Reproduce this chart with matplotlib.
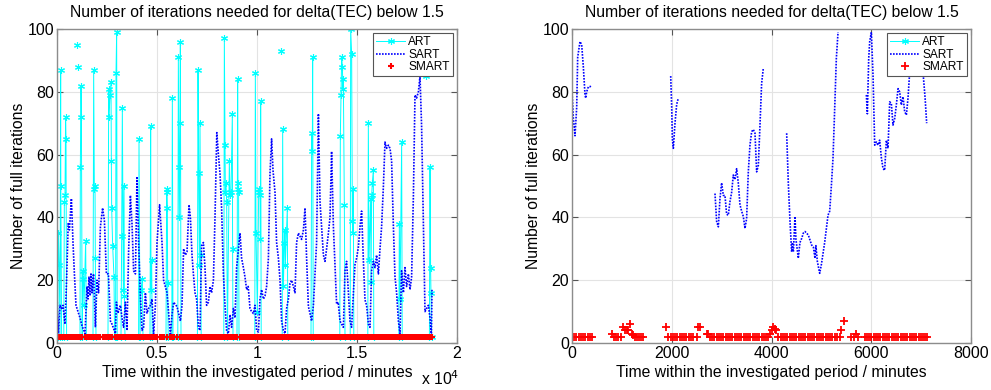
import numpy as np
import matplotlib
matplotlib.use("Agg")
import matplotlib.pyplot as plt

plt.rcParams['font.family'] = ['Liberation Sans', 'DejaVu Sans']

# ---------------- left panel data (time in minutes) ----------------
sart_left_t = [0, 70, 150, 230, 300, 400, 480, 560, 620, 720, 800, 870, 950, 1050, 1150, 1250, 1400,
               1500, 1550, 1600, 1650, 1700, 1750, 1800, 1830, 1920, 2000, 2080, 2170, 2280, 2370, 2470,
               2570, 2670, 2750, 2920, 2970, 3050, 3170, 3250, 3330, 3420, 3500, 3580, 3670, 3750, 3830,
               3920, 4000, 4080, 4170, 4250, 4330, 4420, 4500, 4580, 4670, 4750, 4830, 4920, 5000, 5130,
               5250, 5330, 5500, 5670, 5750, 5830, 6000, 6170, 6250, 6330, 6420, 6500, 6600, 6670, 6750,
               6820, 6900, 6980, 7070, 7150, 7230, 7320, 7400, 7480, 7570, 7650, 7730, 7820, 7900, 7990,
               8070, 8150, 8230, 8320, 8400, 8480, 8570, 8650, 8730, 8820, 8900, 8980, 9150, 9230, 9320,
               9400, 9480, 9560, 9650, 9730, 9820, 9900, 9980, 10070, 10150, 10230, 10320, 10400, 10480,
               10570, 10650, 10730, 10800, 10900, 10980, 11070, 11150, 11230, 11320, 11400, 11480, 11570,
               11650, 11730, 11820, 11900, 11980, 12070, 12150, 12230, 12320, 12400, 12480, 12570, 12650,
               12730, 12820, 12900, 12980, 13030, 13070, 13150, 13230, 13320, 13400, 13480, 13570, 13650,
               13730, 13820, 13900, 13980, 14060, 14150, 14230, 14320, 14400, 14480, 14570, 14650, 14730,
               14820, 14900, 14980, 15070, 15150, 15230, 15320, 15400, 15480, 15570, 15650, 15730, 15820,
               15900, 15980, 16070, 16150, 16230, 16320, 16400, 16480, 16570, 16650, 16730, 16820, 16900,
               16980, 17070, 17150, 17230, 17320, 17400, 17480, 17570, 17650, 17730, 17820, 17900, 17980,
               18070, 18150, 18230, 18320, 18400, 18480, 18570, 18650, 18720, 18750]
sart_left = [15, 3, 12, 11, 12, 6, 20, 38, 36, 46, 32, 22, 12, 10, 8, 5.5, 3,
             18, 14, 21, 15, 22, 16, 21, 22, 5, 20, 16, 37, 43, 39, 22,
             22, 7, 6, 3, 13, 9.5, 12, 8, 5, 13, 4, 29, 47, 38, 23,
             22, 53, 32, 15, 4, 5, 16, 9.5, 11, 12, 14, 3, 12, 32, 44,
             32, 20, 16, 2.5, 9, 13, 11.6, 7, 12, 30, 28, 29, 44, 40, 28,
             22, 16, 14, 5, 4, 31, 32, 24, 12, 13, 18, 16, 20, 40, 67,
             60, 54, 43, 22, 12, 4, 3, 9, 5, 11, 8, 24, 35, 27, 24,
             21, 17, 18, 11, 10, 9.4, 12, 4, 3.5, 14, 17, 14, 15, 18,
             27, 54, 65, 55, 48, 32, 27, 20, 7, 4, 3, 11, 14,
             19, 20, 18, 16, 32, 35, 34, 33, 36, 43, 27, 11.6, 9.4,
             7, 12, 22, 32, 54, 73, 45, 37, 28, 26, 30, 35, 40,
             61, 37, 25, 12.4, 13, 7, 6, 5, 23, 26, 16, 7, 5,
             16, 25, 27, 30.6, 37, 42, 26, 13.7, 12, 6, 5, 23, 26,
             24, 28, 22, 30, 37, 50, 64, 62, 63, 62, 58, 37, 21,
             16, 7, 3, 23, 16, 24, 18, 22, 17, 21, 47, 79, 78,
             80, 85, 69, 37, 10, 11, 12, 8, 2, 17]

nan = np.nan
art_left_t = [30, 67, 110, 150, 183, 190, 230, 231,
              340, 367, 400, 430, 450, 480, 481,
              983, 984, 1033, 1034,
              1150, 1167, 1200, 1220, 1260, 1283, 1317, 1350, 1433, 1470, 1471,
              1800, 1833, 1867, 1900, 1917, 1950, 1951,
              2550, 2583, 2600, 2650, 2700, 2717, 2733, 2783, 2850, 2880, 2881,
              2930, 2950, 2983, 3010, 3011,
              3200, 3233, 3267, 3317, 3350, 3370, 3400, 3401,
              4080, 4100, 4150, 4200, 4267, 4300, 4301,
              4650, 4683, 4700, 4733, 4760, 4761,
              5450, 5483, 5500, 5517, 5533, 5560, 5561,
              5740, 5767, 5800, 5801,
              6040, 6067, 6100, 6117, 6150, 6167, 6200, 6201,
              7020, 7050, 7083, 7120, 7150, 7183, 7210, 7211,
              8340, 8367, 8400, 8417, 8450, 8483, 8520, 8617, 8650, 8700, 8767, 8780, 8800, 8801,
              9000, 9033, 9050, 9067, 9080, 9100, 9101,
              9890, 9917, 9950, 10017, 10083, 10100, 10150, 10170, 10183, 10210, 10211,
              11200, 11201,
              11260, 11283, 11317, 11367, 11400, 11417, 11517, 11540, 11541,
              12700, 12733, 12767, 12783, 12810, 12811,
              14140, 14167, 14200, 14233, 14267, 14300, 14317, 14367, 14400, 14401,
              14660, 14683, 14733, 14767, 14790, 14817, 14840, 14841,
              15540, 15567, 15600, 15683, 15700, 15733, 15767, 15817, 15840, 15841,
              17090, 17117, 17150, 17233, 17260, 17261,
              18450, 18451,
              18620, 18650, 18680, 18700, 18730]
art_left = [2, 35, 25, 2, 87, 50, 2, nan,
            2, 45, 47, 72, 65, 2, nan,
            95, nan, 88, nan,
            2, 56, 82, 72, 2, 23, 20.5, 12, 32.5, 2, nan,
            2, 87, 49, 50, 27, 2, nan,
            2, 81, 72, 79, 83, 58, 43, 31, 21, 2, nan,
            2, 86, 99, 2, nan,
            2, 34, 75, 17, 50, 15, 2, nan,
            2, 65, 2, 17, 20.5, 2, nan,
            2, 69, 17, 26.5, 2, nan,
            2, 49, 48, 43, 19, 2, nan,
            2, 78, 2, nan,
            2, 91, 56, 40, 70, 96, 2, nan,
            2, 87, 54, 25, 70, 28, 2, nan,
            2, 97, 63, 48, 51, 45, 2, 58, 47, 48, 73, 30, 2, nan,
            2, 84, 49, 51, 48, 2, nan,
            2, 86, 35, 10, 48, 49, 47, 33, 77, 2, nan,
            93, nan,
            2, 68, 18, 32, 36, 25, 43, 2, nan,
            2, 67, 61, 91, 2, nan,
            2, 66, 79, 91, 88, 81, 84, 44, 2, nan,
            2, 100, 92, 39, 35, 49, 2, nan,
            2, 70, 26.5, 46, 19.5, 47, 51, 55, 2, nan,
            2, 38, 14, 64, 2, nan,
            85, nan,
            2, 56, 24, 16, 2]

smart_left_t = sart_left_t
smart_left = [2] * len(smart_left_t)

# ---------------- right panel data ----------------
sart_right_t = [0, 27, 60, 94, 114, 160, 194, 227, 261, 275, 294, 328, 361, 381, 382,
                1979, 1999, 2012, 2032, 2065, 2099, 2132, 2133,
                2867, 2900, 2934, 2967, 3000, 3034, 3067, 3100, 3134, 3167, 3201, 3234, 3267,
                3301, 3334, 3368, 3401, 3435, 3468, 3501, 3535, 3568, 3602, 3635, 3669, 3702,
                3736, 3769, 3802, 3836, 3837,
                4304, 4337, 4371, 4404, 4420, 4438, 4471, 4490, 4538, 4570, 4605, 4638, 4672,
                4738, 4805, 4840, 4872, 4890, 4919, 4966, 5000, 5066, 5133, 5167, 5200, 5233,
                5267, 5300, 5334, 5335,
                5902, 5922, 5949, 5969, 6002, 6036, 6069, 6102, 6135, 6169, 6203, 6236, 6269,
                6303, 6336, 6370, 6403, 6436, 6470, 6503, 6537, 6570, 6603, 6637, 6670, 6704,
                6737, 6771, 6820, 6900, 6980, 7044, 7080, 7111]
sart_right = [80.5, 71.5, 66, 75, 91, 96, 95, 88, 79, 78, 80, 81.6, 81.6, 82, nan,
              85, 75, 65, 62, 70, 76, 78, nan,
              47.6, 38.7, 37, 46, 51, 47, 47, 41, 40.7, 45, 48, 53.5, 52,
              55.5, 51, 44, 42, 40.3, 36.5, 39.6, 54.5, 63, 67.3, 68, 66.8, 54.5,
              56.6, 69.4, 82.7, 87.5, nan,
              66.8, 51, 38.7, 29, 32, 29, 40.3, 33, 27, 32, 33.3, 35, 35.5,
              34.4, 31.2, 30.5, 27, 31, 26, 22.2, 25, 32, 40.7, 42, 50, 58.8,
              74.7, 90.6, 99, nan,
              79, 73, 90.6, 96, 99, 85, 63, 64, 63, 64.6, 59, 55.6, 55,
              64.6, 62, 76.8, 76.3, 69.4, 71.5, 75.8, 81, 80, 75.8, 78.4, 73.7, 72.6,
              78, 86.4, 92, 95, 92, 85, 78, 70]

art_right_t = []
art_right = []

smart_right_t = [0, 45, 90, 135, 180, 225, 270, 315, 360, 405,
                 795, 840, 885, 930, 975, 1030, 1063, 1100, 1130, 1163, 1197, 1230, 1265, 1300,
                 1340, 1380, 1430,
                 1877, 1933, 1978, 2023, 2068, 2113, 2158, 2203, 2248, 2293, 2338, 2383, 2433,
                 2500, 2533, 2566,
                 2700, 2733, 2767, 2812, 2857, 2902, 2947, 2992, 3037, 3082, 3127, 3172, 3217,
                 3262, 3307, 3352, 3397, 3442, 3487, 3532, 3577, 3622, 3667, 3712, 3757, 3802,
                 3847, 3892, 3933, 3966, 4000, 4033, 4066, 4100, 4140, 4185, 4230, 4275, 4320,
                 4365, 4410, 4455, 4500, 4545, 4590, 4635, 4680, 4725, 4770, 4815, 4860, 4905,
                 4950, 4995, 5040, 5085, 5130, 5175, 5220, 5265, 5310, 5370, 5403, 5450,
                 5603, 5650, 5703, 5740,
                 5870, 5915, 5960, 6005, 6050, 6095, 6140, 6185, 6230, 6275, 6320, 6365, 6410,
                 6455, 6500, 6545, 6590, 6635, 6680, 6725, 6770, 6815, 6860, 6905, 6950, 6995,
                 7040, 7085, 7110]
smart_right = [2, 2, 2, 2, 2, 2, 2, 2, 2, 2,
               3, 2, 2, 2, 2, 5, 4, 4, 4, 6, 3, 2.5, 2, 2,
               2, 2, 2,
               5, 2, 2, 2, 2, 2, 2, 2, 2, 2, 2, 2, 2,
               2, 5, 5,
               3, 3, 2, 2, 2, 2, 2, 2, 2, 2, 2, 2, 2,
               2, 2, 2, 2, 2, 2, 2, 2, 2, 2, 2, 2, 2,
               2, 2, 2, 3, 4, 5, 4.5, 4, 2, 2, 2, 2, 2,
               2, 2, 2, 2, 2, 2, 2, 2, 2, 2, 2, 2, 2,
               2, 2, 2, 2, 2, 2, 2, 2, 2, 2, 4, 7,
               2, 2, 3, 2,
               2, 2, 2, 2, 2, 2, 2, 2, 2, 2, 2, 2, 2,
               2, 2, 2, 2, 2, 2, 2, 2, 2, 2, 2, 2, 2,
               2, 2, 2]

title = 'Number of iterations needed for delta(TEC) below 1.5'
xlab = 'Time within the investigated period / minutes'
ylab = 'Number of full iterations'

fig = plt.figure(figsize=(9.91, 3.90), dpi=100)
ax1 = fig.add_axes([57 / 991, 47 / 390, 400 / 991, 314 / 390])
ax2 = fig.add_axes([572 / 991, 47 / 390, 399 / 991, 314 / 390])

asterisk = (6, 2, 0)
fs = 11.3


def style_panel(ax, xmax, xticks, xticklabels):
    ax.set_xlim(0, xmax)
    ax.set_ylim(0, 100)
    ax.set_xticks(xticks)
    ax.set_xticklabels(xticklabels)
    ax.set_yticks([0, 20, 40, 60, 80, 100])
    ax.grid(True, color='#e3e3e3', linewidth=0.8)
    ax.set_axisbelow(True)
    for s in ax.spines.values():
        s.set_color('#8c8c8c')
        s.set_linewidth(1.0)
    ax.tick_params(direction='in', length=4, width=0.8, color='#555555', top=True, right=True,
                   labelsize=11.5, pad=2)
    ax.set_title(title, fontsize=fs, pad=9)
    ax.set_xlabel(xlab, fontsize=fs, labelpad=3)
    ax.set_ylabel(ylab, fontsize=fs, labelpad=1)
    leg = ax.legend(loc='upper right', fontsize=8.6, handlelength=2.4, handletextpad=0.3,
                    labelspacing=0.05, borderpad=0.25, borderaxespad=0.35, fancybox=False,
                    framealpha=1)
    leg.get_frame().set_edgecolor('#555555')
    leg.get_frame().set_linewidth(0.8)


# left
ax1.plot(art_left_t, art_left, color='#00ffff', lw=0.7, marker=asterisk, ms=5, mew=0.8, label='ART')
ax1.plot(sart_left_t, sart_left, color='#0000ff', lw=1.2, ls=(0, (1, 0.8)), label='SART')
ax1.plot(smart_left_t, smart_left, ls='none', color='#ff0000', marker='+', ms=5, mew=1.5, label='SMART')
style_panel(ax1, 20000, [0, 5000, 10000, 15000, 20000], ['0', '0.5', '1', '1.5', '2'])
ax1.text(0.91, -0.135, r'x 10$^4$', transform=ax1.transAxes, fontsize=fs, ha='left', va='baseline')

# right
ax2.plot(art_right_t, art_right, color='#00ffff', lw=0.7, marker=asterisk, ms=5, mew=0.8, label='ART')
ax2.plot(sart_right_t, sart_right, color='#0000ff', lw=1.2, ls=(0, (1, 0.8)), label='SART')
ax2.plot(smart_right_t, smart_right, ls='none', color='#ff0000', marker='+', ms=5.5, mew=1.3, label='SMART')
style_panel(ax2, 8000, [0, 2000, 4000, 6000, 8000], ['0', '2000', '4000', '6000', '8000'])

fig.savefig('out.png', dpi=100)
